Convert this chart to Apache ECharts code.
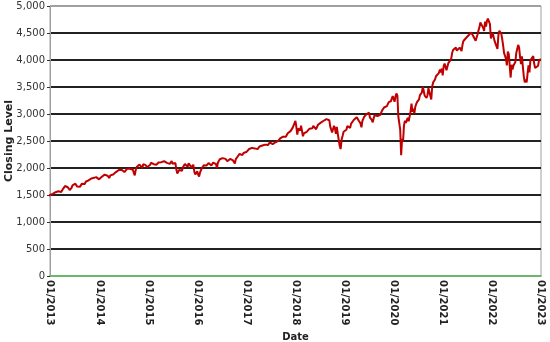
<!DOCTYPE html>
<html>
<head>
<meta charset="utf-8">
<script src="https://cdn.jsdelivr.net/npm/echarts@6/dist/echarts.min.js"></script>
<style>
html,body{margin:0;padding:0;background:#fff;}
#chart{width:550px;height:342px;}
</style>
</head>
<body>
<div id="chart"></div>
<script>
// Weekly closing levels, one array per year
const y2013 = [1466,1472,1486,1503,1513,1518,1520,1515,1519,1552,1557,1556,1569,1553,1589,1556,1583,1614,1626,1667,1650,1631,1643,1627,1593,1606,1632,1680,1692,1691,1709,1691,1656,1664,1633,1655,1688,1710,1692,1690,1703,1745,1760,1762,1771,1798,1804,1806,1805,1775,1818,1841];
const y2014 = [1831,1842,1838,1790,1782,1797,1838,1836,1859,1878,1841,1866,1857,1865,1815,1864,1863,1881,1878,1878,1900,1924,1950,1936,1963,1961,1985,1968,1978,1978,1925,1931,1955,1988,2003,2007,1985,2010,1982,1967,1906,1862,1964,2018,2032,2039,2064,2068,2075,2002,2071,2089];
const y2015 = [2058,2045,2019,2051,1995,2055,2097,2110,2105,2071,2053,2108,2061,2067,2102,2081,2117,2108,2116,2123,2126,2107,2092,2094,2110,2102,2077,2077,2127,2080,2104,2078,2092,1971,1900,1921,1961,1958,1931,1951,2015,2033,2075,2079,2099,2023,2089,2090,2091,2012,2006,2061];
const y2016 = [1922,1880,1907,1940,1880,1840,1918,1948,2000,2022,2050,2035,2073,2048,2081,2092,2065,2058,2047,2053,2099,2099,2096,2071,2000,2103,2130,2162,2175,2174,2183,2184,2184,2169,2180,2128,2139,2165,2168,2153,2133,2141,2126,2085,2164,2182,2213,2192,2260,2258,2263,2239];
const y2017 = [2277,2275,2271,2295,2297,2316,2351,2367,2383,2373,2378,2344,2363,2355,2329,2349,2384,2399,2391,2382,2416,2439,2432,2433,2438,2423,2425,2459,2473,2472,2477,2441,2426,2443,2477,2461,2500,2502,2519,2549,2553,2575,2581,2588,2582,2579,2602,2642,2652,2675,2683,2674];
const y2018 = [2743,2786,2810,2873,2762,2620,2732,2747,2691,2786,2752,2588,2641,2604,2656,2670,2670,2663,2728,2713,2721,2735,2779,2780,2755,2718,2760,2801,2802,2819,2840,2833,2850,2875,2902,2872,2905,2930,2914,2885,2767,2768,2658,2723,2781,2736,2633,2760,2633,2600,2417,2351];
const y2019 = [2532,2596,2671,2665,2707,2708,2776,2793,2804,2743,2822,2800,2834,2893,2907,2905,2940,2946,2881,2860,2826,2752,2873,2887,2950,2942,2990,3014,2977,3026,2932,2919,2889,2847,2926,2979,3007,2992,2962,2952,2970,2986,3023,3067,3093,3120,3110,3141,3146,3169,3221,3240];
const y2020 = [3235,3265,3330,3295,3226,3328,3380,3338,2954,2972,2711,2237,2541,2489,2790,2875,2837,2831,2930,2864,2955,3044,3194,3041,3098,3009,3130,3185,3225,3216,3271,3351,3373,3397,3508,3427,3341,3319,3298,3348,3477,3484,3465,3270,3509,3585,3558,3638,3699,3663,3709,3756];
const y2021 = [3825,3768,3841,3714,3887,3934,3907,3811,3842,3943,3913,3975,4020,4129,4185,4180,4181,4233,4174,4156,4204,4230,4247,4166,4281,4352,4370,4327,4412,4395,4437,4468,4442,4509,4535,4459,4433,4455,4357,4391,4471,4545,4605,4697,4683,4698,4595,4538,4712,4620,4726,4766];
const y2022 = [4796,4663,4398,4432,4501,4419,4349,4385,4329,4204,4463,4543,4546,4488,4393,4272,4132,4123,4024,3901,4158,4109,3901,3675,3912,3825,3899,3863,3962,4130,4145,4280,4228,4058,3924,4067,3873,3693,3586,3640,3583,3752,3901,3771,3993,3965,4026,4072,3934,3852,3845,3840];
const y2023 = [3895,3999,3973,4017];

const years = [2013,2014,2015,2016,2017,2018,2019,2020,2021,2022,2023];
const yearValues = [y2013,y2014,y2015,y2016,y2017,y2018,y2019,y2020,y2021,y2022,y2023];
const yTicks = [0,500,1000,1500,2000,2500,3000,3500,4000,4500,5000];

const seriesData = [];
years.forEach((yr, k) => {
  yearValues[k].forEach((v, i) => {
    seriesData.push([yr + (i * 7 + 4) / 365.25 - 0.07, v]);
  });
});

const chart = echarts.init(document.getElementById('chart'), null, {renderer: 'canvas'});
const gridColors = yTicks.map((t, i) => i === 0 ? 'rgba(0,0,0,0)' : (i === yTicks.length - 1 ? '#a0a0a0' : '#222222'));
chart.setOption({
  animation: false,
  backgroundColor: '#ffffff',
  grid: {left: 50, right: 9, top: 6, bottom: 66, show: true, borderColor: '#a0a0a0', borderWidth: 1,
    containLabel: false, outerBoundsMode: 'none'},
  xAxis: {
    type: 'value', min: 2013, max: 2023, interval: 1,
    name: 'Date', nameLocation: 'middle', nameGap: 56, nameMoveOverlap: false,
    nameTextStyle: {fontFamily: 'DejaVu Sans', fontWeight: 'bold', fontSize: 10, color: '#222'},
    axisLine: {show: true, lineStyle: {color: '#4cae4c', width: 1.5}},
    axisTick: {show: false},
    splitLine: {show: false},
    axisLabel: {rotate: -90, margin: 4, fontFamily: 'DejaVu Sans', fontWeight: 'bold', fontSize: 10, color: '#222',
      formatter: v => '01/' + v}
  },
  yAxis: {
    type: 'value', min: 0, max: 5000, interval: 500,
    name: 'Closing Level', nameLocation: 'middle', nameGap: 35, nameMoveOverlap: false,
    nameTextStyle: {fontFamily: 'DejaVu Sans', fontWeight: 'bold', fontSize: 11, color: '#222'},
    axisLine: {show: true, lineStyle: {color: '#a0a0a0', width: 1}},
    axisTick: {show: true, length: 3, lineStyle: {color: '#333'}},
    splitLine: {show: true, lineStyle: {color: gridColors, width: 2}},
    axisLabel: {margin: 5, fontFamily: 'DejaVu Sans', fontSize: 10, color: '#333',
      formatter: v => v.toLocaleString('en-US')}
  },
  series: [{
    type: 'line', data: seriesData, showSymbol: false, clip: true,
    lineStyle: {color: '#c00000', width: 2}, z: 5
  }]
});
</script>
</body>
</html>
